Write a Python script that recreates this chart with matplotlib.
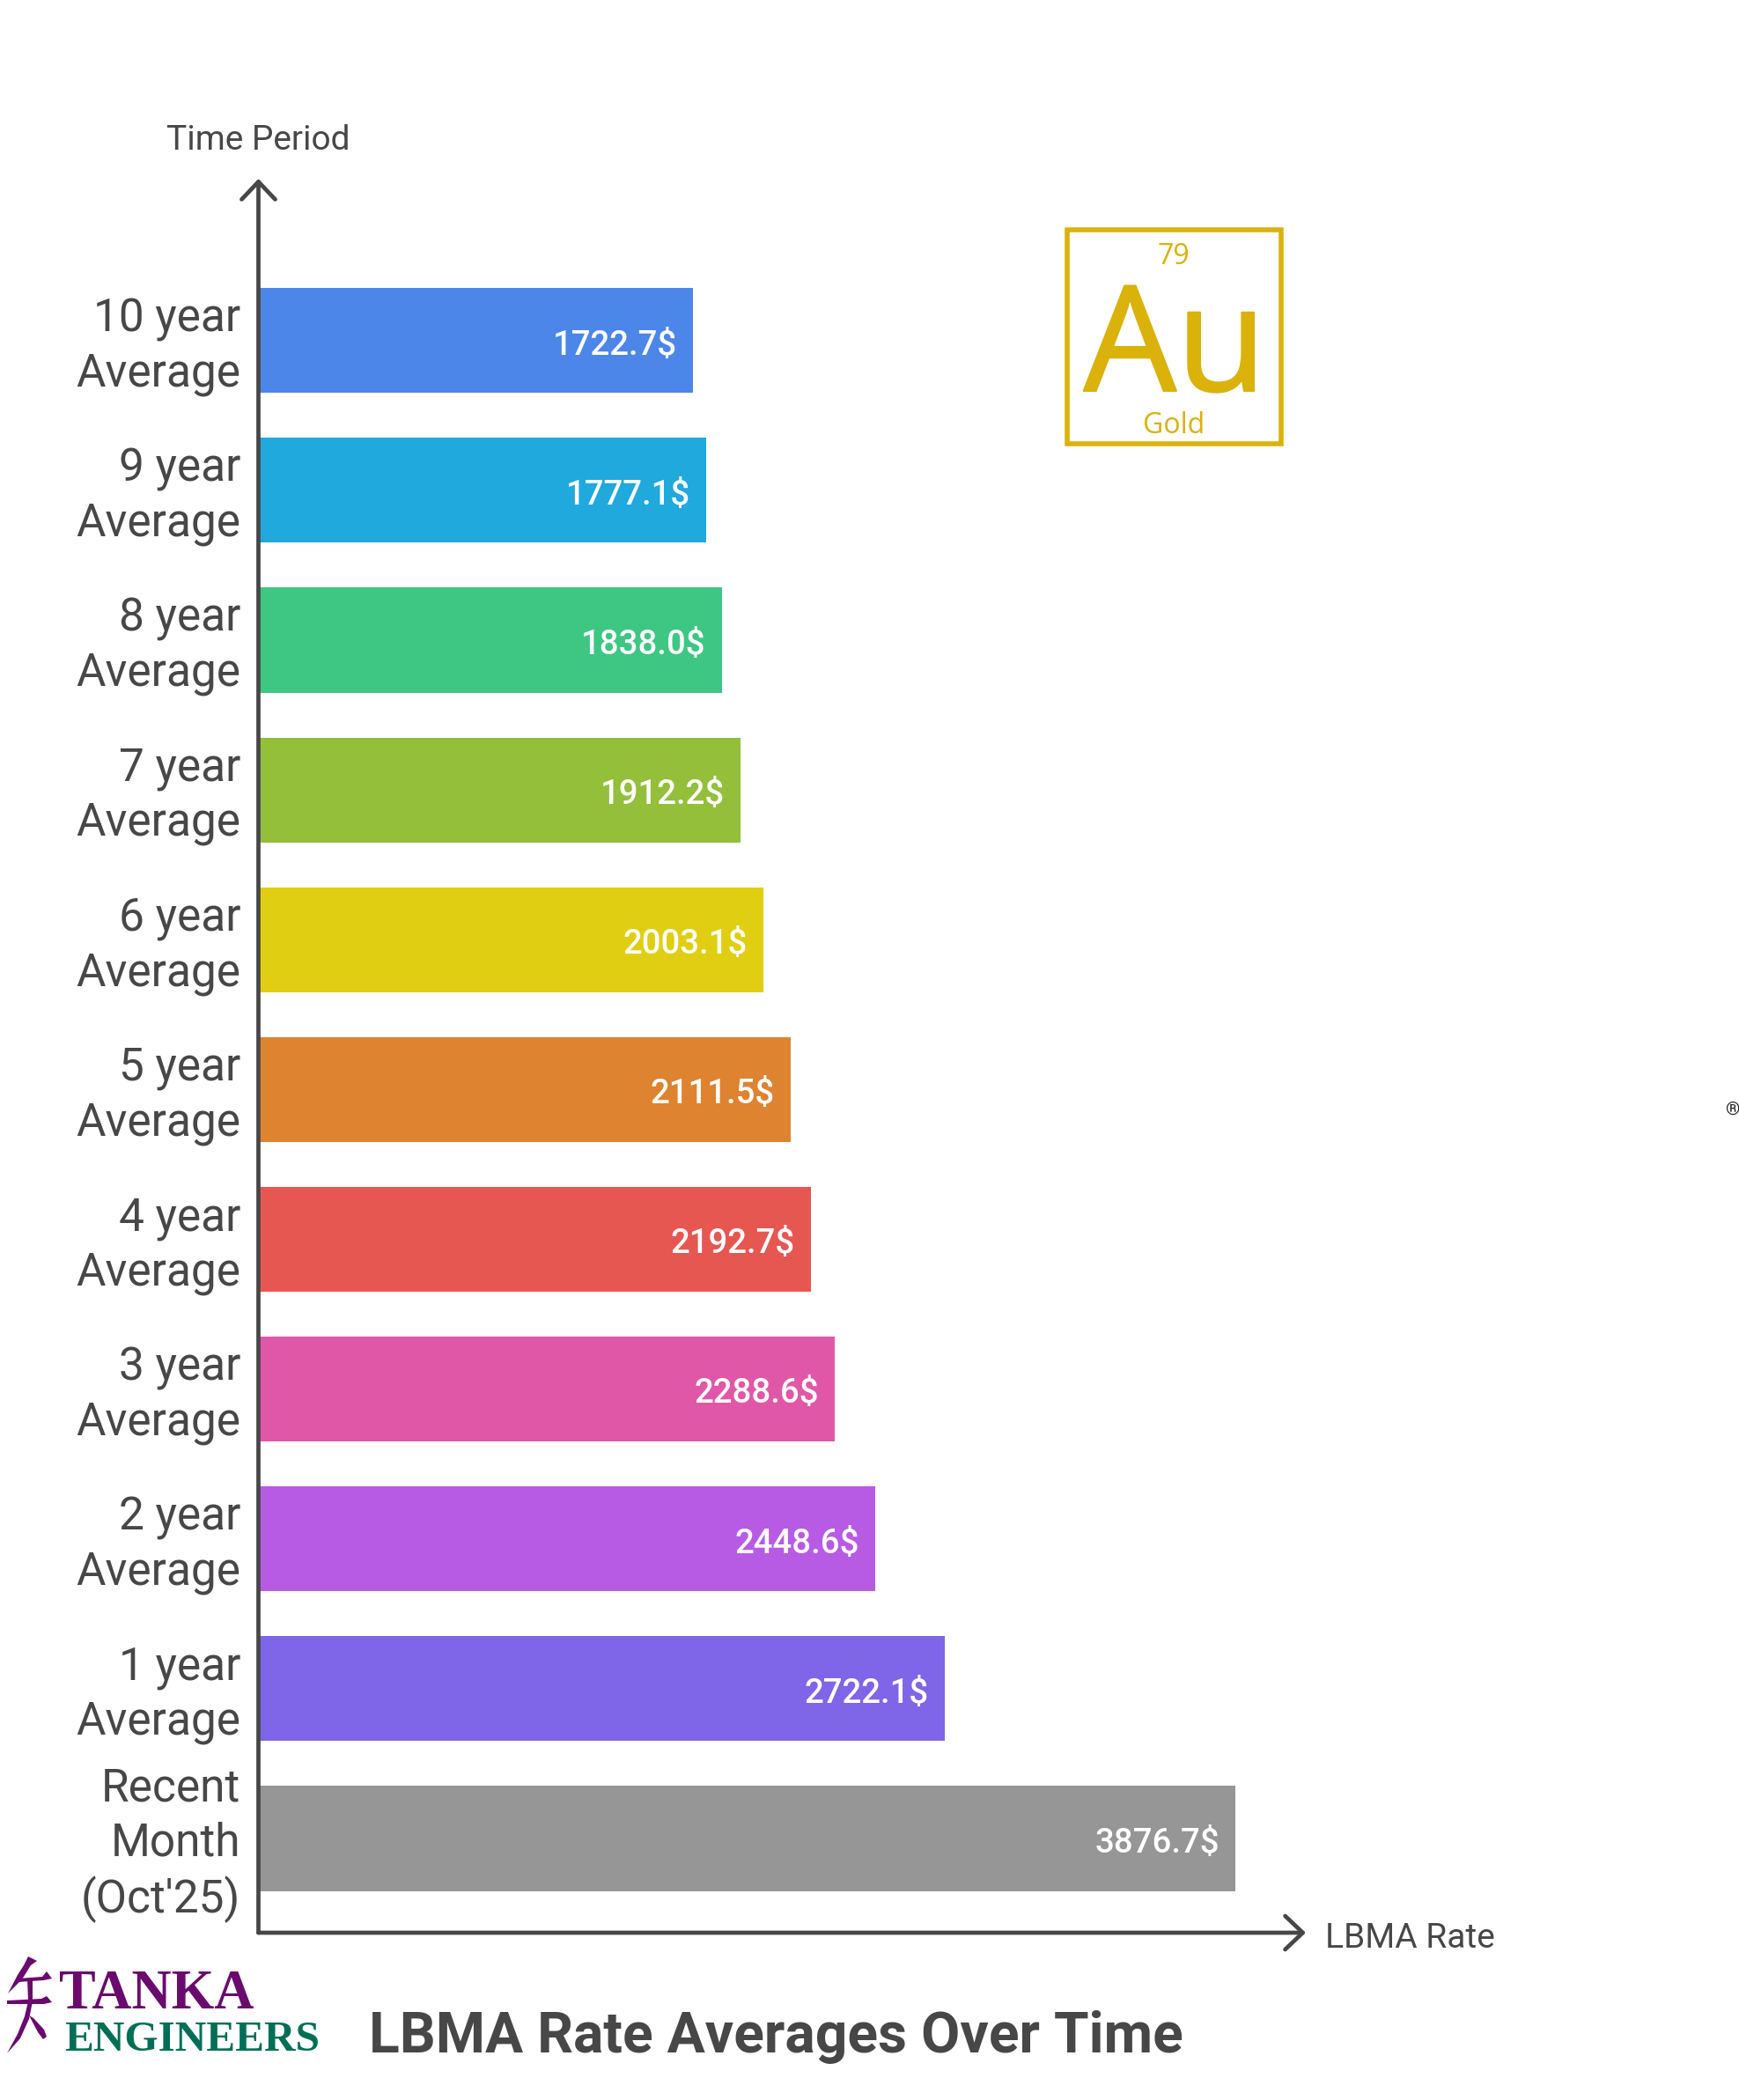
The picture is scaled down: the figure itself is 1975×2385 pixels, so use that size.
# Imports
import matplotlib
matplotlib.use("Agg")
import matplotlib.pyplot as plt
from matplotlib.patches import Rectangle, Polygon
from matplotlib.transforms import ScaledTranslation
import matplotlib.patheffects as pe

# Chart data
periods = ["Recent\nMonth\n(Oct'25)", "1 year\nAverage", "2 year\nAverage", "3 year\nAverage",
           "4 year\nAverage", "5 year\nAverage", "6 year\nAverage", "7 year\nAverage",
           "8 year\nAverage", "9 year\nAverage", "10 year\nAverage"]
rates = [3876.7, 2722.1, 2448.6, 2288.6, 2192.7, 2111.5, 2003.1, 1912.2, 1838.0, 1777.1, 1722.7]
colors = ["#969696", "#7F65E8", "#B85BE4", "#E057A8", "#E75752", "#DE832F",
          "#E0CE12", "#93BF3B", "#3EC683", "#1FA9DC", "#4C86E8"]

W, H = 1975, 2385
GREY = "#474747"
GOLD = "#DAB20A"
PX_PER_USD = 0.2862
PITCH = 170.12
LAST_Y = 2088

plt.rcParams['font.family'] = ['Roboto', 'DejaVu Sans']

fig = plt.figure(figsize=(W / 100, H / 100), dpi=100, facecolor="white")

def fx(x):
    return x / W

def fy(y):
    return 1 - y / H

# Main axes: left edge is the vertical axis line, bottom edge the horizontal one
left, right, top, bottom = 293.5, 1483, 203, 2195
ax = fig.add_axes([fx(left), fy(bottom), (right - left) / W, (bottom - top) / H])
ax.set_xlim(0, (right - left) / PX_PER_USD)
ax.set_ylim((LAST_Y - bottom) / PITCH, (LAST_Y - top) / PITCH)
for s in ax.spines.values():
    s.set_visible(False)
ax.patch.set_alpha(0)

ax.barh(range(len(rates)), rates, height=0.70, color=colors, zorder=1)
ax.set_xticks([])
ax.set_yticks(range(len(rates)))
ax.set_yticklabels(periods, fontsize=37, color=GREY, linespacing=1.30, ha="right")
ax.tick_params(axis="y", length=0, pad=14.5)
# labels sit a little above the bar centres
for lab in ax.get_yticklabels():
    lab.set_transform(lab.get_transform() + ScaledTranslation(0, 3.4 / 72, fig.dpi_scale_trans))

for i, r in enumerate(rates):
    ax.annotate(f"{r:.1f}$", (r, i), xytext=(-13, -3.8), textcoords="offset points",
                ha="right", va="center", color="white", fontsize=27.6, fontweight="medium")

# Axis lines with open arrow heads
style = "->,head_length=1.44,head_width=1.37"
ax.annotate("", xy=(0, 1), xytext=(0, 0), xycoords="axes fraction", zorder=3,
            arrowprops=dict(arrowstyle=style, color=GREY, lw=3.4, shrinkA=0, shrinkB=0))
ax.annotate("", xy=(1, 0), xytext=(0, 0), xycoords="axes fraction", zorder=3,
            arrowprops=dict(arrowstyle=style, color=GREY, lw=3.4, shrinkA=0, shrinkB=0))

fig.text(fx(293), fy(159.5), "Time Period", ha="center", va="center", fontsize=28, color=GREY)
fig.text(fx(1505), fy(2201), "LBMA Rate", ha="left", va="center", fontsize=28, color=GREY)
fig.text(fx(419), fy(2313), "LBMA Rate Averages Over Time", ha="left", va="center",
         fontsize=46.2, fontweight="bold", color=GREY)

# Gold element box
fig.add_artist(Rectangle((fx(1212), fy(504)), 243 / W, 243 / H, transform=fig.transFigure,
                         fill=False, edgecolor=GOLD, linewidth=4))
fig.text(fx(1333), fy(300), "79", ha="center", va="baseline", fontsize=23, color=GOLD, family="Open Sans")
au = fig.text(fx(1334.5), fy(444), "Au", ha="center", va="baseline", fontsize=120, color=GOLD,
              family="Open Sans")
au.set_path_effects([pe.withStroke(linewidth=1.5, foreground=GOLD)])
fig.text(fx(1333), fy(492), "Gold", ha="center", va="baseline", fontsize=23, color=GOLD, family="Open Sans")

# Logo
PURPLE = "#6A0A6E"
GREEN = "#006F55"
fig.text(fx(67), fy(2281), "TANKA", ha="left", va="baseline", fontsize=45, fontweight="bold",
         color=PURPLE, family="Liberation Serif")
fig.text(fx(73), fy(2329), "ENGINEERS", ha="left", va="baseline", fontsize=35.5, fontweight="bold",
         color=GREEN, family="Liberation Serif")

# brush strokes of the logo mark, in pixels of the picture
strokes = [
    [(32, 2222), (42, 2227), (35, 2232), (25, 2248), (9, 2264), (20, 2243), (27, 2232)],
    [(21, 2247), (48, 2245), (53, 2239), (59, 2247), (50, 2249), (21, 2251)],
    [(8, 2272), (47, 2270), (53, 2267), (59, 2274), (50, 2276), (8, 2276)],
    [(31, 2247), (37, 2248), (37, 2273), (33, 2293), (23, 2315), (8, 2332), (20, 2310), (28, 2290), (32, 2273)],
    [(33, 2289), (38, 2292), (50, 2305), (53, 2313), (49, 2316), (43, 2308)],
]
for pts in strokes:
    fig.add_artist(Polygon([(fx(x), fy(y)) for x, y in pts], closed=True, transform=fig.transFigure,
                           facecolor=PURPLE, edgecolor="none"))

fig.text(fx(1967), fy(1261.5), "®", ha="center", va="center", fontsize=15, fontweight="bold", color="#222222")

fig.savefig("out.png", dpi=100)
